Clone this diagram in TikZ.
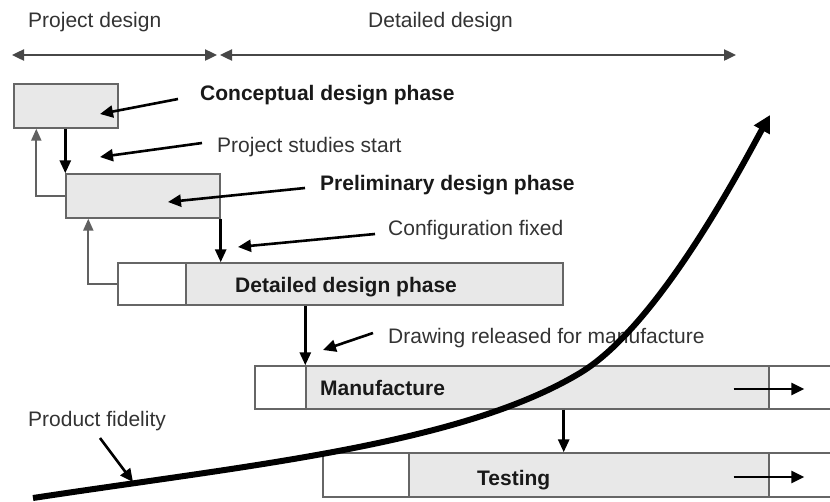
\documentclass[tikz,border=0pt]{standalone}
\usepackage{fontspec}
\setmainfont{Liberation Sans}
\usetikzlibrary{arrows.meta}
\begin{document}
\begin{tikzpicture}[x=1pt,y=-1pt,
  txt/.style={anchor=base west, inner sep=0pt, text=black!80, font=\fontsize{21}{25}\selectfont},
  btxt/.style={txt, text=black!90, font=\fontsize{21}{25}\selectfont\bfseries},
  box/.style={draw=black!60, line width=1.4pt, fill=black!9, inner sep=0pt, minimum height=44pt},
  wbox/.style={box, fill=white},
  lbl/.style={line width=2.6pt, -{Triangle[length=13pt,width=12pt]}},
  flow/.style={line width=2.8pt, -{Triangle[length=13pt,width=11pt]}},
  back/.style={line width=2.2pt, -{Triangle[length=12pt,width=10pt]}, color=black!62},
  bar/.style={line width=2.4pt, color=black!72, {Triangle[length=12pt,width=11pt]}-{Triangle[length=12pt,width=11pt]}},
  fid/.style={line width=6pt, -{Triangle[length=17pt,width=17pt]}}
]
\useasboundingbox (0,0) rectangle (830,501);
\clip (0,0) rectangle (830,501);

% phase header
\node[txt] (hp) at (28,27) {Project design};
\node[txt] (hd) at (368,27) {Detailed design};
\coordinate (pd1) at (12,55);
\coordinate (pd2) at (217,55);
\coordinate (dd1) at (220,55);
\coordinate (dd2) at (736,55);
\draw[bar] (pd1) -- (pd2);
\draw[bar] (dd1) -- (dd2);

% boxes
\node[box, minimum width=104pt] (b1) at (66,106) {};
\node[box, minimum width=154pt] (b2) at (143,196) {};
\node[wbox, minimum width=68pt, minimum height=42pt] (b3a) at (152,284) {};
\node[box, minimum width=377pt, minimum height=42pt] (b3) at (374.5,284) {};
\node[wbox, minimum width=51pt, minimum height=43pt] (b4a) at (280.5,387.5) {};
\node[box, minimum width=463pt, minimum height=43pt] (b4) at (537.5,387.5) {};
\node[wbox, minimum width=76pt, minimum height=43pt] (b4c) at (807,387.5) {};
\node[wbox, minimum width=86pt] (b5a) at (366,475) {};
\node[box, minimum width=360pt] (b5) at (589,475) {};
\node[wbox, minimum width=76pt] (b5c) at (807,475) {};

% texts
\node[btxt] (t1) at (200,100) {Conceptual design phase};
\node[txt] (t2) at (217,152) {Project studies start};
\node[btxt] (t3) at (320,190) {Preliminary design phase};
\node[txt] (t4) at (388,235) {Configuration fixed};
\node[btxt] (t5) at (235,292) {Detailed design phase};
\node[txt] (t6) at (388,343) {Drawing released for manufacture};
\node[btxt] (t7) at (320,395) {Manufacture};
\node[txt] (t8) at (28,426) {Product fidelity};
\node[btxt] (t9) at (477,485) {Testing};

% flow connectors
\draw[flow] (b1.south -| b2.north west) -- (b2.north west);
\draw[flow] (b2.south east) -- (b2.south east |- b3.north);
\draw[flow] (b3.south -| b4.north west) -- (b4.north west);
\draw[flow] (b4.south -| b3.east) -- (b5.north -| b3.east);

% feedback connectors
\draw[back] (b2.west) -| ([xshift=23pt]b1.south west);
\draw[back] (b3a.west) -| ([xshift=23pt]b2.south west);

% continuation arrows
\draw[lbl] ([xshift=-36pt,yshift=-1.5pt]b4.east) -- ([xshift=36pt,yshift=-1.5pt]b4c.west);
\draw[lbl] ([xshift=-36pt,yshift=-2pt]b5.east) -- ([xshift=36pt,yshift=-2pt]b5c.west);

% label arrows
\coordinate (e1) at (100,114);
\coordinate (e2) at (100,157);
\coordinate (e3) at (168,202);
\coordinate (e4) at (238,247);
\coordinate (e5) at (323,350);
\coordinate (e6) at (133,482);
\draw[lbl] (178,99) -- (e1);
\draw[lbl] (202,143) -- (e2);
\draw[lbl] (305,188) -- (e3);
\draw[lbl] (375,234) -- (e4);
\draw[lbl] (373,333) -- (e5);
\draw[lbl] (100,438) -- (e6);

% product fidelity curve
\coordinate (fs) at (33,498);
\coordinate (fm) at (580,373);
\coordinate (fe) at (770,115);
\draw[fid] (fs) .. controls (250,465) and (460,445) .. (fm)
  .. controls (660,325) and (745,160) .. (fe);
\end{tikzpicture}
\end{document}
